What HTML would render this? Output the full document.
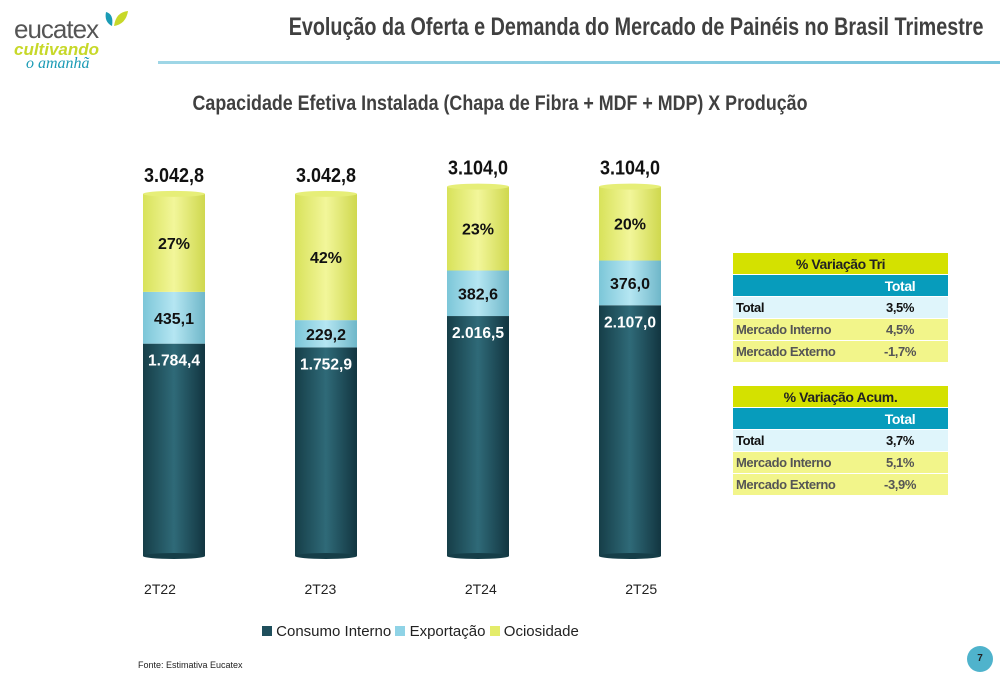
<!DOCTYPE html>
<html><head><meta charset="utf-8">
<style>
body{margin:0;width:1000px;height:685px;background:#fff;font-family:"Liberation Sans",sans-serif;position:relative;overflow:hidden}
.abs{position:absolute}
table{border-collapse:separate;border-spacing:0 1px;font-weight:bold;font-size:13px;letter-spacing:-0.4px}
td{padding:0 3px;height:21px;white-space:nowrap}
</style></head><body>
<div class="abs" style="left:12px;top:8px;width:130px;height:66px">
 <div class="abs" style="left:2px;top:6px;font-size:26px;color:#555;letter-spacing:-1px">eucatex</div>
 <svg class="abs" style="left:90px;top:0" width="28" height="24"><path d="M4 4 Q12 6 10 18 Q2 14 4 4Z" fill="#1a9bb5"/><path d="M12 18 Q14 4 26 3 Q24 16 12 18Z" fill="#c7d829"/></svg>
 <div class="abs" style="left:2px;top:32px;font-size:17px;color:#c7d829;font-weight:bold;font-style:italic">cultivando</div>
 <div class="abs" style="left:14px;top:47px;font-size:16px;color:#1a9bb5;font-style:italic;font-family:'Liberation Serif',serif">o amanhã</div>
</div>
<div class="abs" style="right:17px;top:13px;font-size:25px;font-weight:bold;color:#404040;white-space:nowrap;transform:scaleX(0.79);transform-origin:right top">Evolução da Oferta e Demanda do Mercado de Painéis no Brasil Trimestre</div>
<div class="abs" style="left:158px;top:61px;width:842px;height:3px;background:linear-gradient(90deg,#9fd6e6,#74c3dc)"></div>
<div class="abs" style="left:0;width:1000px;text-align:center;top:92px;font-size:21px;font-weight:bold;color:#404040;white-space:nowrap;transform:scaleX(0.85);transform-origin:500px 0">Capacidade Efetiva Instalada (Chapa de Fibra + MDF + MDP) X Produção</div>

<svg class="abs" style="left:0;top:0" width="720" height="685" id="chart"></svg>

<div class="abs" style="left:262px;top:623px;font-size:15px;color:#222;white-space:nowrap">
<span><span style="display:inline-block;width:10px;height:10px;background:#1f4f5c"></span> Consumo Interno</span>
<span><span style="display:inline-block;width:10px;height:10px;background:#8fd3e6"></span> Exportação</span>
<span><span style="display:inline-block;width:10px;height:10px;background:#e4ec6a"></span> Ociosidade</span>
</div>

<div class="abs" style="left:733px;top:252px;width:215px">
<table style="width:215px">
<tr><td colspan="2" style="background:#d4e100;text-align:center;font-size:14px;color:#222">% Variação Tri</td></tr>
<tr style="background:#079cbc;color:#fff"><td></td><td style="text-align:center;font-size:14px">Total</td></tr>
<tr style="background:#dff5fb;color:#111"><td style="width:113px">Total</td><td style="text-align:center">3,5%</td></tr>
<tr style="background:#f2f58a;color:#555"><td>Mercado Interno</td><td style="text-align:center">4,5%</td></tr>
<tr style="background:#f2f58a;color:#555"><td>Mercado Externo</td><td style="text-align:center">-1,7%</td></tr>
<tr><td style="height:22px"></td><td></td></tr>
<tr><td colspan="2" style="background:#d4e100;text-align:center;font-size:14px;color:#222">% Variação Acum.</td></tr>
<tr style="background:#079cbc;color:#fff"><td></td><td style="text-align:center;font-size:14px">Total</td></tr>
<tr style="background:#dff5fb;color:#111"><td>Total</td><td style="text-align:center">3,7%</td></tr>
<tr style="background:#f2f58a;color:#555"><td>Mercado Interno</td><td style="text-align:center">5,1%</td></tr>
<tr style="background:#f2f58a;color:#555"><td>Mercado Externo</td><td style="text-align:center">-3,9%</td></tr>
</table></div>

<div class="abs" style="left:138px;top:660px;font-size:9px;color:#222">Fonte: Estimativa Eucatex</div>
<div class="abs" style="left:967px;top:646px;width:26px;height:26px;border-radius:50%;background:#4fb3cc;color:#222;font-size:10px;font-weight:bold;text-align:center;line-height:26px">7</div>

<script>
const categories=["2T22","2T23","2T24","2T25"];
const consumo=[1784.4,1752.9,2016.5,2107.0];
const exportacao=[435.1,229.2,382.6,376.0];
const capacidade=[3042.8,3042.8,3104.0,3104.0];
const ociosidadePct=["27%","42%","23%","20%"];
const consumoLbl=["1.784,4","1.752,9","2.016,5","2.107,0"];
const exportLbl=["435,1","229,2","382,6","376,0"];
const capLbl=["3.042,8","3.042,8","3.104,0","3.104,0"];

const svg=document.getElementById('chart');
const NS='http://www.w3.org/2000/svg';
const base=556, k=0.119, x0=143, step=152, bw=62;
const y=v=>base-v*k;
const xb=i=>x0+i*step;
function mk(t,a){const e=document.createElementNS(NS,t);for(const n in a)e.setAttribute(n,a[n]);svg.appendChild(e);return e;}
const defs=mk('defs',{});
[['gd','#163e48','#2f6a78','#123540'],['gl','#7cc6d8','#b5e6f2','#6fb7c9'],['gy','#d8e25a','#f2f69a','#cfd84e']].forEach(g=>{
 const lg=document.createElementNS(NS,'linearGradient');lg.setAttribute('id',g[0]);
 [[0,g[1]],[0.5,g[2]],[1,g[3]]].forEach(s=>{const st=document.createElementNS(NS,'stop');st.setAttribute('offset',s[0]);st.setAttribute('stop-color',s[1]);lg.appendChild(st);});
 defs.appendChild(lg);});
function txt(x,yy,s,size,col,name,tl){const a={x:x,y:yy,'text-anchor':'middle','font-size':size,'font-weight':'bold',fill:col,'font-family':'Liberation Sans, sans-serif'};if(tl){a.textLength=tl;a.lengthAdjust='spacingAndGlyphs';}const t=mk('text',a);t.textContent=s;


return t;}
categories.forEach((c,i)=>{
 const x=xb(i), cx=x+bw/2;
 const yc=y(consumo[i]), ye=y(consumo[i]+exportacao[i]), yt=y(capacidade[i]);
 const r1=mk('rect',{x:x,y:yc,width:bw,height:base-yc,fill:'url(#gd)'});
 
 
 const r2=mk('rect',{x:x,y:ye,width:bw,height:yc-ye,fill:'url(#gl)'});
 
 
 const r3=mk('rect',{x:x,y:yt,width:bw,height:ye-yt,fill:'url(#gy)'});
 
 
 mk('ellipse',{cx:cx,cy:yt,rx:bw/2,ry:3,fill:'#e6ee78'});
 mk('ellipse',{cx:cx,cy:base,rx:bw/2,ry:3,fill:'#163e48'});
 txt(cx,yt-12,capLbl[i],20,'#111','total-label-'+c,60);
 txt(cx,(yt+ye)/2+6,ociosidadePct[i],16,'#111','ociosidade-label-'+c);
 txt(cx,(ye+yc)/2+6,exportLbl[i],16,'#111','exportacao-label-'+c,40);
 txt(cx,yc+22,consumoLbl[i],16,'#fff','consumo-label-'+c,52);
 const cl=mk('text',{x:cx-14+i*8.4,y:594,'text-anchor':'middle','font-size':14,fill:'#222','font-family':'Liberation Sans, sans-serif'});cl.textContent=c;
 
 
});
</script>
</body></html>
